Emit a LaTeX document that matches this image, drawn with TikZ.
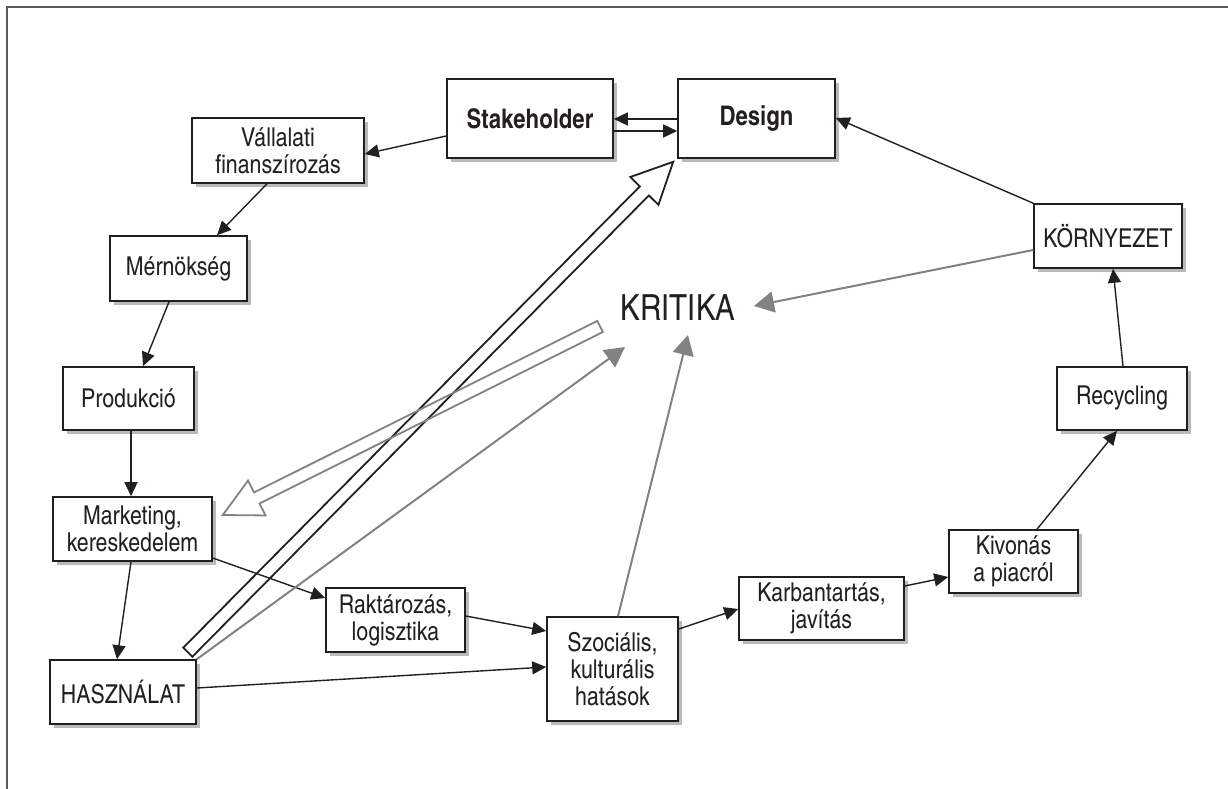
\documentclass[tikz,border=0pt]{standalone}
\usepackage{fontspec}
\setmainfont{texgyreheroscn}[Extension=.otf, UprightFont=*-regular, BoldFont=*-bold]
\usetikzlibrary{arrows.meta,calc,shadows}
\definecolor{ink}{RGB}{35,31,32}
\definecolor{lg}{RGB}{128,130,133}
\definecolor{shd}{RGB}{185,186,190}
\begin{document}
\begin{tikzpicture}[x=1pt,y=-1pt,
  box/.style={draw=ink, line width=1.6pt, fill=white, align=center, inner sep=0pt, text=ink,
    font=\fontsize{26}{27}\selectfont,
    drop shadow={shadow xshift=4pt, shadow yshift=-4pt, fill=shd, opacity=1}},
  bbox/.style={box, font=\fontsize{27}{29}\selectfont\bfseries},
  arr/.style={-{Triangle[length=14pt,width=13pt]}, line width=1.4pt, draw=ink},
  garr/.style={-{Triangle[length=20pt,width=21pt]}, line width=2pt, draw=lg, fill=lg},
  hollow/.style={line width=1.8pt, line join=miter},
]
\useasboundingbox (0,0) rectangle (1228,789);
\draw[line width=1.2pt, black!65] (7,789) -- (7,7) -- (1228,7);

\node[bbox, minimum width=166pt, minimum height=79pt] (stake) at (530,118.5) {Stakeholder};
\node[bbox, minimum width=157pt, minimum height=79pt] (design) at (756.5,118.5) {Design};
\node[box, minimum width=172pt, minimum height=65pt] (vall) at (278,150.5) {Vállalati\\finanszírozás};
\node[box, minimum width=137pt, minimum height=65pt] (mern) at (178.5,268.5) {Mérnökség};
\node[box, minimum width=131pt, minimum height=63pt] (prod) at (128.5,398.5) {Produkció};
\node[box, minimum width=159pt, minimum height=64pt] (mark) at (132.5,529) {Marketing,\\kereskedelem};
\node[box, minimum width=146pt, minimum height=64pt] (hasz) at (123,692) {HASZNÁLAT};
\node[box, minimum width=139pt, minimum height=64pt] (rakt) at (395.5,620) {Raktározás,\\logisztika};
\node[box, minimum width=131pt, minimum height=104pt] (szoc) at (612.5,669) {Szociális,\\kulturális\\hatások};
\node[box, minimum width=165pt, minimum height=63pt] (karb) at (821.5,608.5) {Karbantartás,\\javítás};
\node[box, minimum width=129pt, minimum height=63pt] (kiv) at (1013.5,561.5) {Kivonás\\a piacról};
\node[box, minimum width=130pt, minimum height=63pt] (recy) at (1122,398.5) {Recycling};
\node[box, minimum width=148pt, minimum height=64pt] (korny) at (1108,236) {KÖRNYEZET};
\node[inner sep=0pt, text=ink, font=\fontsize{36}{40}\selectfont] (krit) at (678,308) {KRITIKA};

% black connectors
\draw[arr] ($(stake.west)+(0,17.5)$) -- ($(vall.east)+(0,3.5)$);
\draw[arr] ($(vall.south)+(-11,0)$) -- ($(mern.north)+(38.5,0)$);
\draw[arr] ($(mern.south)+(-9.5,0)$) -- ($(prod.north)+(14.5,0)$);
\draw[arr] ($(prod.south)+(2.5,0)$) -- ($(mark.north)+(-1.5,0)$);
\draw[arr] ($(mark.south)+(-1.5,0)$) -- ($(hasz.north)+(-6,0)$);
\draw[arr] ($(mark.east)+(0,29)$) -- ($(rakt.west)+(0,-22)$);
\draw[arr] ($(hasz.east)+(0,-4)$) -- ($(szoc.west)+(0,-2)$);
\draw[arr] ($(rakt.east)+(0,-4)$) -- ($(szoc.west)+(0,-38)$);
\draw[arr] ($(szoc.east)+(0,-40)$) -- ($(karb.west)+(0,0.5)$);
\draw[arr] ($(karb.east)+(0,-22.5)$) -- ($(kiv.west)+(0,15.5)$);
\draw[arr] ($(kiv.north)+(23.5,0)$) -- ($(recy.south)+(-5,0)$);
\draw[arr] ($(recy.north)+(1,0)$) -- ($(korny.south)+(5,0)$);
\draw[arr] (korny.north west) -- ($(design.east)+(0,-0.5)$);
\draw[arr] ($(design.west)+(0,0.5)$) -- ($(stake.east)+(0,0.5)$);
\draw[arr] ($(stake.east)+(0,12.5)$) -- ($(design.west)+(0,12.5)$);

% gray connectors to KRITIKA
\draw[garr] ($(korny.west)+(0,14)$) -- ($(krit.center)+(76,-2)$);
\draw[garr] (hasz.north east) -- ($(krit.center)+(-53,39)$);
\draw[garr] ($(szoc.north)+(5.5,0)$) -- ($(krit.center)+(10,27)$);

% black hollow arrow: HASZNALAT -> Design
\coordinate (bt) at ($(hasz.north east)+(-9,-7)$);
\coordinate (bp) at ($(design.south west)+(-4,3)$);
\coordinate (bh) at ($(bp)!41pt!(bt)$);
\draw[hollow, draw=ink] ($(bt)!6.4pt!90:(bp)$) -- ($(bh)!6.4pt!90:(bp)$) -- ($(bh)!19.8pt!90:(bp)$) -- (bp)
  -- ($(bh)!19.8pt!-90:(bp)$) -- ($(bh)!6.4pt!-90:(bp)$) -- ($(bt)!6.4pt!-90:(bp)$) -- cycle;

% gray hollow arrow: KRITIKA -> Marketing
\coordinate (gt) at ($(krit.center)+(-78,18.5)$);
\coordinate (gp) at ($(mark.east)+(10,-14)$);
\coordinate (gh) at ($(gp)!38pt!(gt)$);
\draw[hollow, draw=lg] ($(gt)!6.2pt!90:(gp)$) -- ($(gh)!6.2pt!90:(gp)$) -- ($(gh)!19.5pt!90:(gp)$) -- (gp)
  -- ($(gh)!19.5pt!-90:(gp)$) -- ($(gh)!6.2pt!-90:(gp)$) -- ($(gt)!6.2pt!-90:(gp)$) -- cycle;
\end{tikzpicture}
\end{document}
